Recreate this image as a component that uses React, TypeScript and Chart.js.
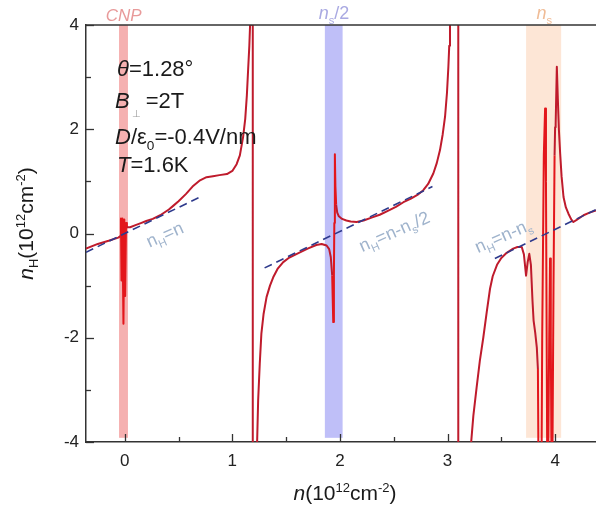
import React, { useEffect, useRef } from 'react';
import { Chart, registerables } from 'chart.js';

Chart.register(...registerables);

// ---- data ----
const nValues = [
  -0.36, -0.25, -0.15, -0.06, -0.04,
  -0.035, -0.03, -0.022, -0.012, -0.004, 0.004, 0.012, 0.02,
  0.05, 0.1, 0.15, 0.2, 0.26, 0.33, 0.41, 0.45, 0.5, 0.57, 0.63, 0.7, 0.76, 0.82, 0.88, 0.95,
  1.0, 1.04, 1.07, 1.1, 1.12, 1.135, 1.147, 1.158, 1.165, 1.172, 1.19, 1.19, 1.225,
  1.228, 1.24, 1.255, 1.27, 1.29, 1.318, 1.35, 1.38, 1.42, 1.473, 1.53, 1.6, 1.7, 1.78, 1.83,
  1.876, 1.9, 1.915, 1.928, 1.938, 1.944, 1.948, 1.953, 1.958, 1.965, 1.975, 1.99, 2.02, 2.06,
  2.1, 2.155, 2.22, 2.3, 2.37, 2.45, 2.52, 2.59, 2.66, 2.72, 2.775, 2.82, 2.868, 2.9, 2.93,
  2.955, 2.977, 2.995, 3.008, 3.016, 3.023, 3.04, 3.1, 3.1, 3.21,
  3.216, 3.24, 3.27, 3.3, 3.333, 3.365, 3.395, 3.42, 3.46, 3.5, 3.55, 3.61, 3.65, 3.69, 3.71, 3.73,
  3.745, 3.76, 3.775, 3.79, 3.8, 3.815, 3.83, 3.84, 3.85, 3.87, 3.88, 3.895, 3.907, 3.915, 3.93,
  3.945, 3.953, 3.96, 3.97, 3.985, 3.995, 4.0, 4.005, 4.016, 4.025, 4.035, 4.047, 4.06, 4.078,
  4.1, 4.124, 4.15, 4.17, 4.2, 4.264, 4.32, 4.38,
];
const nHValues = [
  -0.29, -0.2, -0.14, -0.08, -0.05,
  0.29, -0.9, 0.29, -1.73, 0.27, -1.2, 0.2, 0.12,
  0.12, 0.16, 0.2, 0.24, 0.28, 0.35, 0.46, 0.53, 0.62, 0.76, 0.9, 1.02, 1.08, 1.1, 1.12, 1.14,
  1.2, 1.33, 1.5, 1.85, 2.2, 2.65, 3.15, 3.6, 4.0, 5, 6, -6, -6,
  -4.2, -3.2, -2.5, -1.92, -1.55, -1.22, -1.0, -0.84, -0.68, -0.55, -0.46, -0.39, -0.29, -0.22, -0.2,
  -0.23, -0.3, -0.45, -0.8, -1.7, -0.8, 0.2, 1.52, 0.9, 0.55, 0.4, 0.33, 0.28, 0.25,
  0.23, 0.22, 0.25, 0.31, 0.36, 0.44, 0.51, 0.6, 0.67, 0.74, 0.83, 0.95, 1.15, 1.35, 1.6,
  1.9, 2.24, 2.7, 3.2, 3.6, 4.0, 5, 6, -6, -6,
  -4.1, -3.5, -2.96, -2.45, -1.99, -1.5, -1.06, -0.82, -0.6, -0.47, -0.37, -0.29, -0.26, -0.26, -0.4, -0.81,
  -0.55, -0.39, -0.6, -1.3, -1.67, -1.9, -2.19, -2.6, -6, -6, -2, 1.5, 2.4, 1.0, -6,
  -2, -0.48, -2, -6, -1, 1.5, 2.04, 2.1, 3.2, 2.6, 2.0, 1.53, 1.1, 0.7,
  0.5, 0.38, 0.27, 0.22, 0.26, 0.35, 0.4, 0.44,
];

// guide lines n_H = n - offset (end points)
const dash1N = [-0.36, 0.7];
const dash1H = [-0.36, 0.7];
const dash2N = [1.3, 2.86];
const dash2H = [-0.66, 0.9];
const dash3N = [3.44, 4.38];
const dash3H = [-0.48, 0.46];

// shaded bands
const bandStart = [-0.053, 1.86, 3.73];
const bandEnd = [0.03, 2.025, 4.056];
const bandColors = ['rgba(242,150,150,0.75)', 'rgba(170,170,245,0.75)', 'rgba(252,222,200,0.75)'];
const bandLabelColors = ['#e89a9a', '#a9a9e2', '#f0bc96'];

// ticks
const xMajor = [0, 1, 2, 3, 4];
const xMinor = [0.5, 1.5, 2.5, 3.5];
const yMajor = [-4, -2, 0, 2, 4];
const yMinor = [-3, -1, 1, 3];

const FAMILY = '"Liberation Sans", Arial, Helvetica, sans-serif';

type Run = { t: string; it?: boolean; sub?: boolean; sup?: boolean; scale?: number; dy?: number; gap?: number; color?: string };

function runFont(r: Run, size: number) {
  const s = r.scale ? size * r.scale : r.sub || r.sup ? size * 0.62 : size;
  return `${r.it ? 'italic ' : ''}${s}px ${FAMILY}`;
}

function drawRuns(ctx: CanvasRenderingContext2D, runs: Run[], x: number, y: number, size: number, color: string, align: 'left' | 'center' = 'left') {
  ctx.save();
  ctx.textBaseline = 'alphabetic';
  ctx.textAlign = 'left';
  let total = 0;
  const widths = runs.map((r) => {
    ctx.font = runFont(r, size);
    const w = ctx.measureText(r.t).width + (r.gap || 0);
    total += w;
    return w;
  });
  let cx = align === 'center' ? x - total / 2 : x;
  runs.forEach((r, i) => {
    ctx.font = runFont(r, size);
    ctx.fillStyle = r.color || color;
    const dy = r.dy !== undefined ? r.dy : r.sub ? size * 0.25 : r.sup ? -size * 0.4 : 0;
    ctx.fillText(r.t, cx + (r.gap || 0), y + dy);
    cx += widths[i];
  });
  ctx.restore();
}

const decorPlugin = {
  id: 'decor',
  beforeDatasetsDraw(chart: any) {
    const { ctx, chartArea } = chart;
    const xs = chart.scales.x;
    const ys = chart.scales.y;
    ctx.save();
    ctx.beginPath();
    ctx.rect(chartArea.left, chartArea.top, chartArea.right - chartArea.left, chartArea.bottom - chartArea.top);
    ctx.clip();
    bandStart.forEach((b, i) => {
      const x0 = xs.getPixelForValue(b);
      const x1 = xs.getPixelForValue(bandEnd[i]);
      const y0 = ys.getPixelForValue(4);
      const y1 = ys.getPixelForValue(-3.92);
      ctx.fillStyle = bandColors[i];
      ctx.fillRect(x0, y0, x1 - x0, y1 - y0);
    });
    ctx.restore();
  },
  afterDatasetsDraw(chart: any) {
    const { ctx, chartArea } = chart;
    const xs = chart.scales.x;
    const ys = chart.scales.y;
    ctx.save();
    ctx.strokeStyle = '#333';
    ctx.lineWidth = 1.5;
    // top frame line
    ctx.beginPath();
    ctx.moveTo(chartArea.left, chartArea.top);
    ctx.lineTo(chartArea.right, chartArea.top);
    ctx.stroke();
    // inward ticks
    ctx.lineWidth = 1.3;
    const b = chartArea.bottom;
    const l = chartArea.left;
    xMajor.forEach((v) => {
      const p = Math.round(xs.getPixelForValue(v)) + 0.5;
      ctx.beginPath(); ctx.moveTo(p, b); ctx.lineTo(p, b - 8); ctx.stroke();
    });
    xMinor.forEach((v) => {
      const p = Math.round(xs.getPixelForValue(v)) + 0.5;
      ctx.beginPath(); ctx.moveTo(p, b); ctx.lineTo(p, b - 5); ctx.stroke();
    });
    yMajor.forEach((v) => {
      const p = Math.round(ys.getPixelForValue(v)) + 0.5;
      ctx.beginPath(); ctx.moveTo(l, p); ctx.lineTo(l + 8, p); ctx.stroke();
    });
    yMinor.forEach((v) => {
      const p = Math.round(ys.getPixelForValue(v)) + 0.5;
      ctx.beginPath(); ctx.moveTo(l, p); ctx.lineTo(l + 5, p); ctx.stroke();
    });
    ctx.restore();

    // band labels above plot
    const top = chartArea.top;
    drawRuns(ctx, [{ t: 'CNP', it: true }], xs.getPixelForValue(-0.01), top - 4, 17, bandLabelColors[0], 'center');
    drawRuns(ctx, [{ t: 'n', it: true }, { t: 's', sub: true }, { t: '/2' }], xs.getPixelForValue(1.945), top - 6, 18, bandLabelColors[1], 'center');
    drawRuns(ctx, [{ t: 'n', it: true }, { t: 's', sub: true }], xs.getPixelForValue(3.9), top - 6, 18, bandLabelColors[2], 'center');

    // parameter block
    const L = chartArea.left;
    drawRuns(ctx, [{ t: 'θ', it: true }, { t: '=1.28°' }], L + 31, 76, 22, '#1a1a1a');
    drawRuns(ctx, [{ t: 'B', it: true }, { t: '⊥', scale: 0.45, dy: 9, gap: 2, color: '#9a9a9a' }, { t: '=2T', gap: 5 }], L + 29, 108, 22, '#1a1a1a');
    drawRuns(ctx, [{ t: 'D', it: true }, { t: '/ε' }, { t: '0', sub: true }, { t: '=-0.4V/nm' }], L + 29, 144, 22, '#1a1a1a');
    drawRuns(ctx, [{ t: 'T', it: true }, { t: '=1.6K' }], L + 31, 172, 22, '#1a1a1a');

    // guide line labels
    const ang = -24 * Math.PI / 180;
    const lab = (xv: number, yv: number, runs: Run[]) => {
      ctx.save();
      ctx.translate(xs.getPixelForValue(xv), ys.getPixelForValue(yv));
      ctx.rotate(ang);
      drawRuns(ctx, runs, 0, 6, 18, '#9fb3cc', 'center');
      ctx.restore();
    };
    lab(0.372, -0.02, [{ t: 'n' }, { t: 'H', sub: true }, { t: '=n' }]);
    lab(2.505, 0.04, [{ t: 'n' }, { t: 'H', sub: true }, { t: '=n-n' }, { t: 's', sub: true }, { t: '/2' }]);
    lab(3.516, -0.04, [{ t: 'n' }, { t: 'H', sub: true }, { t: '=n-n' }, { t: 's', sub: true }]);
  },
  afterDraw(chart: any) {
    const { ctx, chartArea } = chart;
    // x title
    drawRuns(ctx, [{ t: 'n', it: true }, { t: '(10' }, { t: '12', sup: true }, { t: 'cm' }, { t: '-2', sup: true }, { t: ')' }],
      (chartArea.left + chartArea.right) / 2 + 4, 500, 21, '#1a1a1a', 'center');
    // y title
    ctx.save();
    ctx.translate(33, (chartArea.top + chartArea.bottom) / 2 - 10);
    ctx.rotate(-Math.PI / 2);
    drawRuns(ctx, [{ t: 'n', it: true }, { t: 'H', sub: true }, { t: '(10' }, { t: '12', sup: true }, { t: 'cm' }, { t: '-2', sup: true }, { t: ')' }],
      0, 0, 21, '#1a1a1a', 'center');
    ctx.restore();
  },
};

function pts(xs: number[], ys: number[]) {
  return xs.map((x, i) => ({ x, y: ys[i] }));
}

const inBright = (x: number) => (x > -0.045 && x < 0.02) || (x > 1.92 && x < 1.96) || (x > 3.835 && x < 3.995);

export default function App() {
  const ref = useRef<HTMLCanvasElement | null>(null);
  useEffect(() => {
    if (!ref.current) return;
    const dashStyle = { borderColor: '#2e3a8c', borderWidth: 1.6, borderDash: [8, 5], pointRadius: 0, fill: false, showLine: true, order: 0 };
    const chart = new Chart(ref.current, {
      type: 'scatter',
      data: {
        datasets: [
          { ...dashStyle, label: 'nH=n', data: pts(dash1N, dash1H) },
          { ...dashStyle, label: 'nH=n-ns/2', data: pts(dash2N, dash2H) },
          { ...dashStyle, label: 'nH=n-ns', data: pts(dash3N, dash3H) },
          {
            label: 'nH',
            data: pts(nValues, nHValues),
            showLine: true,
            pointRadius: 0,
            borderColor: '#bf1b2c',
            borderWidth: 2,
            borderJoinStyle: 'round',
            fill: false,
            order: 1,
            segment: {
              borderColor: (c: any) => (inBright(c.p0.parsed.x) ? '#e3161b' : '#bf1b2c'),
            },
          } as any,
        ],
      },
      options: {
        responsive: false,
        animation: false,
        devicePixelRatio: 1,
        layout: { padding: { top: 25, right: 0, left: 0, bottom: 0 } },
        plugins: { legend: { display: false }, tooltip: { enabled: false }, title: { display: false } },
        scales: {
          x: {
            type: 'linear',
            min: -0.36,
            max: 4.38,
            grid: { display: false, drawTicks: false },
            border: { display: true, color: '#333', width: 1.5 },
            ticks: { stepSize: 1, includeBounds: false, padding: 9, color: '#222', font: { family: FAMILY, size: 17 } },
            afterFit: (s: any) => { s.height = 66; },
          },
          y: {
            type: 'linear',
            min: -4,
            max: 4,
            grid: { display: false, drawTicks: false },
            border: { display: true, color: '#333', width: 1.5 },
            ticks: { stepSize: 2, includeBounds: false, padding: 7, color: '#222', font: { family: FAMILY, size: 17 } },
            afterFit: (s: any) => { s.width = 86; },
          },
        },
      },
      plugins: [decorPlugin],
    } as any);
    return () => chart.destroy();
  }, []);
  return (
    <div style={{ position: 'absolute', left: 0, top: 0, width: 596, height: 508, background: '#fff' }}>
      <canvas ref={ref} width={596} height={508} style={{ display: 'block' }} />
    </div>
  );
}
